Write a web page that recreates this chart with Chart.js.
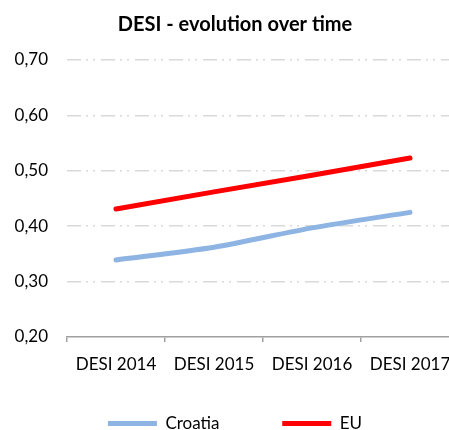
<!DOCTYPE html>
<html>
<head>
<meta charset="utf-8">
<script src="https://cdn.jsdelivr.net/npm/chart.js@4/dist/chart.umd.min.js"></script>
<style>
  html, body { margin: 0; padding: 0; overflow: hidden; background: #fff; }
  #wrap { width: 470px; height: 442px; }
</style>
</head>
<body>
<div id="wrap"><canvas id="chart"></canvas></div>
<script>
// Chart data
const years = ["DESI 2014", "DESI 2015", "DESI 2016", "DESI 2017"];
const croatia = [0.339, 0.362, 0.397, 0.425];
const eu = [0.431, 0.462, 0.492, 0.523];

const FONT = "Lato, 'Liberation Sans', sans-serif";

const ctx = document.getElementById("chart");
const chart = new Chart(ctx, {
  type: "line",
  data: {
    labels: years,
    datasets: [
      {
        label: "Croatia",
        data: croatia,
        borderColor: "#8eb4e3",
        backgroundColor: "#8eb4e3",
        borderWidth: 5,
        borderCapStyle: "round",
        pointRadius: 0,
        tension: 0.25,
      },
      {
        label: "EU",
        data: eu,
        borderColor: "#ff0000",
        backgroundColor: "#ff0000",
        borderWidth: 5,
        borderCapStyle: "round",
        pointRadius: 0,
        tension: 0,
      },
    ],
  },
  options: {
    responsive: true,
    maintainAspectRatio: false,
    animation: false,
    layout: { padding: { left: 11, right: 11, top: 0, bottom: 0 } },
    plugins: {
      title: {
        display: true,
        text: "DESI - evolution over time",
        color: "#000",
        font: { family: FONT, size: 20, weight: "bold" },
        padding: { top: 13, bottom: 23 },
      },
      legend: {
        position: "bottom",
        labels: {
          usePointStyle: true,
          pointStyle: "line",
          pointStyleWidth: 49,
          padding: 41,
          color: "#000",
          font: { family: FONT, size: 17 },
          // extra room after the first entry, like the wide Excel legend
          generateLabels: (c) => {
            const items = Chart.defaults.plugins.legend.labels.generateLabels(c);
            items[0].text = items[0].text + "     ";
            return items;
          },
        },
      },
      tooltip: { enabled: false },
    },
    scales: {
      x: {
        offset: true,
        afterFit: (s) => {
          s.height = 37;
        },
        grid: {
          offset: true,
          drawOnChartArea: false,
          drawTicks: true,
          tickLength: 5,
          color: "#a0a0a0",
          lineWidth: 1.5,
        },
        border: { display: true, color: "#a0a0a0", width: 1.5 },
        ticks: {
          color: "#000",
          padding: 12,
          maxRotation: 0,
          autoSkip: false,
          font: { family: FONT, size: 17 },
        },
      },
      y: {
        min: 0.2,
        max: 0.7,
        afterFit: (s) => {
          s.width = 56;
        },
        ticks: {
          stepSize: 0.1,
          color: "#000",
          padding: 19,
          font: { family: FONT, size: 17 },
          callback: (v) => v.toFixed(2).replace(".", ","),
        },
        grid: {
          drawTicks: false,
          color: (c) => (c.tick && c.tick.value <= 0.2001 ? "rgba(0,0,0,0)" : "#d9d9d9"),
          lineWidth: 1.5,
        },
        border: { display: false, dash: [14, 5, 2, 5, 2, 6] },
      },
    },
  },
});
</script>
</body>
</html>
